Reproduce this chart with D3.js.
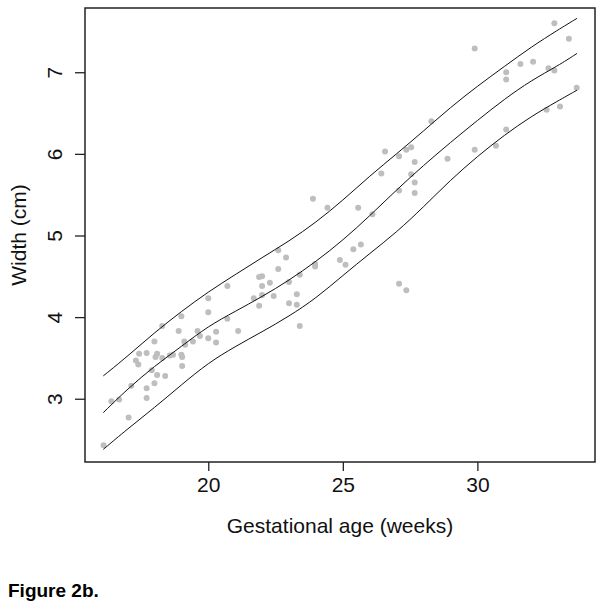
<!DOCTYPE html>
<html>
<head>
<meta charset="utf-8">
<script src="https://cdn.jsdelivr.net/npm/d3@7"></script>
<style>
  body { margin: 0; background: #fff; }
  svg { display: block; font-family: Arial, 'Liberation Sans', sans-serif; }
</style>
</head>
<body>
<svg id="chart" width="604" height="609"></svg>
<script>
// observed widths (gestational age in weeks, width in cm)
const ages = [16.11, 16.40, 16.69, 17.04, 17.14, 17.31, 17.40, 17.43, 17.71, 17.71, 17.71, 17.90,
  18.00, 18.00, 18.04, 18.10, 18.10, 18.29, 18.29, 18.40, 18.57, 18.69, 18.90, 19.00, 19.00,
  19.03, 19.03, 19.11, 19.14, 19.43, 19.60, 19.69, 20.00, 20.00, 20.00, 20.29, 20.29, 20.71,
  20.71, 21.11, 21.69, 21.89, 22.00, 21.89, 22.00, 22.00, 22.29, 22.43, 22.60, 22.60, 22.89,
  23.00, 23.00, 23.29, 23.29, 23.40, 23.40, 23.89, 23.97, 23.97, 24.43, 24.89, 25.10, 25.39,
  25.57, 25.67, 26.10, 26.43, 26.57, 27.09, 27.09, 27.09, 27.36, 27.36, 27.54, 27.54, 27.67,
  27.67, 27.67, 28.29, 28.89, 29.90, 29.90, 30.69, 31.07, 31.07, 31.07, 31.60, 32.07, 32.57,
  32.64, 32.86, 32.86, 33.07, 33.40, 33.69];
const widths = [2.43, 2.97, 2.99, 2.77, 3.16, 3.47, 3.42, 3.55, 3.56, 3.13, 3.01, 3.35,
  3.70, 3.19, 3.51, 3.55, 3.29, 3.50, 3.89, 3.28, 3.53, 3.54, 3.83, 4.01, 3.54,
  3.51, 3.40, 3.70, 3.66, 3.70, 3.83, 3.77, 4.23, 4.06, 3.74, 3.82, 3.69, 3.98,
  4.38, 3.83, 4.23, 4.49, 4.50, 4.14, 4.38, 4.27, 4.42, 4.26, 4.82, 4.59, 4.73,
  4.43, 4.17, 4.28, 4.15, 4.52, 3.89, 5.45, 4.65, 4.62, 5.34, 4.70, 4.64, 4.83,
  5.34, 4.89, 5.26, 5.76, 6.03, 5.97, 5.55, 4.41, 4.33, 6.05, 6.08, 5.75, 5.90,
  5.65, 5.52, 6.40, 5.94, 7.29, 6.05, 6.10, 7.00, 6.91, 6.30, 7.10, 7.13, 6.54,
  7.05, 7.60, 7.02, 6.58, 7.41, 6.81];

// fitted centile curves
const curveAges = [16.1, 17, 18, 19, 20, 21, 22, 23, 24, 25, 26, 27, 28, 29, 30, 31, 32, 33, 33.7];
const upperCurve = [3.28, 3.52, 3.81, 4.07, 4.31, 4.52, 4.73, 4.93, 5.16, 5.43, 5.73, 6.00, 6.28, 6.57, 6.83, 7.07, 7.31, 7.52, 7.66];
const meanCurve = [2.83, 3.12, 3.40, 3.64, 3.89, 4.07, 4.25, 4.45, 4.68, 4.94, 5.24, 5.56, 5.86, 6.14, 6.41, 6.67, 6.90, 7.08, 7.23];
const lowerCurve = [2.38, 2.63, 2.89, 3.17, 3.44, 3.64, 3.82, 4.01, 4.23, 4.51, 4.78, 5.04, 5.35, 5.68, 5.97, 6.23, 6.46, 6.65, 6.78];

const xTicks = [20, 25, 30];
const yTicks = [3, 4, 5, 6, 7];

const svg = d3.select('#chart');
const box = { left: 85, right: 595, top: 8, bottom: 462 };

const x = d3.scaleLinear().domain([15.42, 34.37]).range([box.left, box.right]);
const y = d3.scaleLinear().domain([2.225, 7.787]).range([box.bottom, box.top]);

// points
svg.append('g')
  .selectAll('circle')
  .data(ages.map((a, i) => ({ a, w: widths[i] })))
  .enter().append('circle')
  .attr('cx', d => x(d.a))
  .attr('cy', d => y(d.w))
  .attr('r', 3)
  .attr('fill', '#bebebe');

// curves
const line = d3.line()
  .x((d, i) => x(curveAges[i]))
  .y(d => y(d))
  .curve(d3.curveBasis);

svg.append('g')
  .selectAll('path')
  .data([upperCurve, meanCurve, lowerCurve])
  .enter().append('path')
  .attr('d', d => line(d))
  .attr('fill', 'none')
  .attr('stroke', '#111')
  .attr('stroke-width', 1);

// axes
const xAxis = svg.append('g')
  .attr('transform', `translate(0,${box.bottom})`)
  .call(d3.axisBottom(x).tickValues(xTicks).tickSize(9).tickPadding(6).tickSizeOuter(0));
xAxis.select('.domain').remove();
xAxis.selectAll('line').attr('stroke', '#222').attr('stroke-width', 1.3);
xAxis.selectAll('text')
  .attr('font-size', 21)
  .attr('font-family', 'Arial, Liberation Sans, sans-serif')
  .attr('fill', '#111');

const yAxis = svg.append('g')
  .attr('transform', `translate(${box.left},0)`)
  .call(d3.axisLeft(y).tickValues(yTicks).tickFormat(d3.format('d')).tickSize(10).tickSizeOuter(0));
yAxis.select('.domain').remove();
yAxis.selectAll('line').attr('stroke', '#222').attr('stroke-width', 1.3);
yAxis.selectAll('text')
  .attr('font-size', 21)
  .attr('font-family', 'Arial, Liberation Sans, sans-serif')
  .attr('fill', '#111')
  .attr('text-anchor', 'middle')
  .attr('dy', null)
  .attr('x', null)
  .attr('transform', 'translate(-23,0) rotate(-90)');

// box
svg.append('rect')
  .attr('x', box.left)
  .attr('y', box.top)
  .attr('width', box.right - box.left)
  .attr('height', box.bottom - box.top)
  .attr('fill', 'none')
  .attr('stroke', '#222')
  .attr('stroke-width', 1.5);

// labels
svg.append('text')
  .attr('x', (box.left + box.right) / 2)
  .attr('y', 533)
  .attr('text-anchor', 'middle')
  .attr('font-size', 21)
  .attr('fill', '#111')
  .text('Gestational age (weeks)');

svg.append('text')
  .attr('transform', `translate(26,${(box.top + box.bottom) / 2}) rotate(-90)`)
  .attr('text-anchor', 'middle')
  .attr('font-size', 21)
  .attr('fill', '#111')
  .text('Width (cm)');

svg.append('text')
  .attr('x', 8)
  .attr('y', 597)
  .attr('font-size', 19)
  .attr('font-weight', 'bold')
  .attr('fill', '#000')
  .text('Figure 2b.');
</script>
</body>
</html>
